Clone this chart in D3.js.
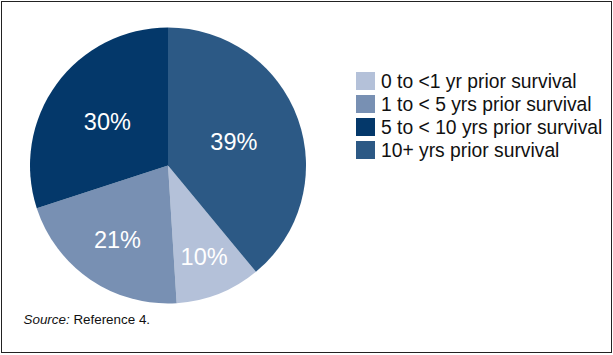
<!DOCTYPE html>
<meta charset="utf-8">
<script src="https://cdn.jsdelivr.net/npm/d3@7"></script>
<style>
body { margin: 0; background: #fff; }
text { font-family: "Liberation Sans", Arial, sans-serif; }
.slice-label { fill: #fff; font-size: 23.5px; text-anchor: middle; }
.legend text { fill: #111; font-size: 19.3px; }
.source { fill: #111; font-size: 13.4px; }
</style>
<body>
<script>

// legend order
var categories = ["0 to <1 yr prior survival", "1 to < 5 yrs prior survival",
                  "5 to < 10 yrs prior survival", "10+ yrs prior survival"];
var values = [10, 21, 30, 39];
var colors = ["#b4c1d9", "#7890b3", "#04386a", "#2c5985"];
// label distance from centre, per slice (hand placed in the original)
var labelR = [98, 90, 75, 70];

var width = 613, height = 355;
var cx = 168, cy = 165.5, r = 138;

var svg = d3.select("body").append("svg")
    .attr("width", width)
    .attr("height", height);

svg.append("rect")
    .attr("x", 1.5).attr("y", 1.5)
    .attr("width", 610).attr("height", 351)
    .attr("fill", "#fff")
    .attr("stroke", "#222")
    .attr("stroke-width", 1);

var data = categories.map(function(c, i) { return {name: c, value: values[i], i: i}; });

// the 10+ slice starts at 12 o'clock, the rest follow clockwise
var start = values[3] / d3.sum(values) * 2 * Math.PI;
var pie = d3.pie()
    .sort(null)
    .value(function(d) { return d.value; })
    .startAngle(start)
    .endAngle(start + 2 * Math.PI);

var arcs = pie(data);
var arc = d3.arc().innerRadius(0).outerRadius(r);

var g = svg.append("g").attr("transform", "translate(" + cx + "," + cy + ")");

g.selectAll("path")
    .data(arcs)
    .enter().append("path")
    .attr("d", arc)
    .attr("fill", function(d) { return colors[d.data.i]; });

g.selectAll(".slice-label")
    .data(arcs)
    .enter().append("text")
    .attr("class", "slice-label")
    .attr("transform", function(d) {
        var lr = labelR[d.data.i];
        var c = d3.arc().innerRadius(lr).outerRadius(lr).centroid(d);
        return "translate(" + c[0] + "," + c[1] + ")";
    })
    .attr("dy", "0.36em")
    .text(function(d) { return d.data.value + "%"; });

var legend = svg.append("g")
    .attr("class", "legend")
    .attr("transform", "translate(356,72)");

var row = legend.selectAll("g")
    .data(data)
    .enter().append("g")
    .attr("transform", function(d, i) { return "translate(0," + (i * 23) + ")"; });

row.append("rect")
    .attr("width", 19).attr("height", 18)
    .attr("fill", function(d) { return colors[d.i]; });

row.append("text")
    .attr("x", 25).attr("y", 16)
    .text(function(d) { return d.name; });

var src = svg.append("text")
    .attr("class", "source")
    .attr("x", 23.5).attr("y", 324);
src.append("tspan").attr("font-style", "italic").text("Source:");
src.append("tspan").text(" Reference 4.");

</script>
</body>
